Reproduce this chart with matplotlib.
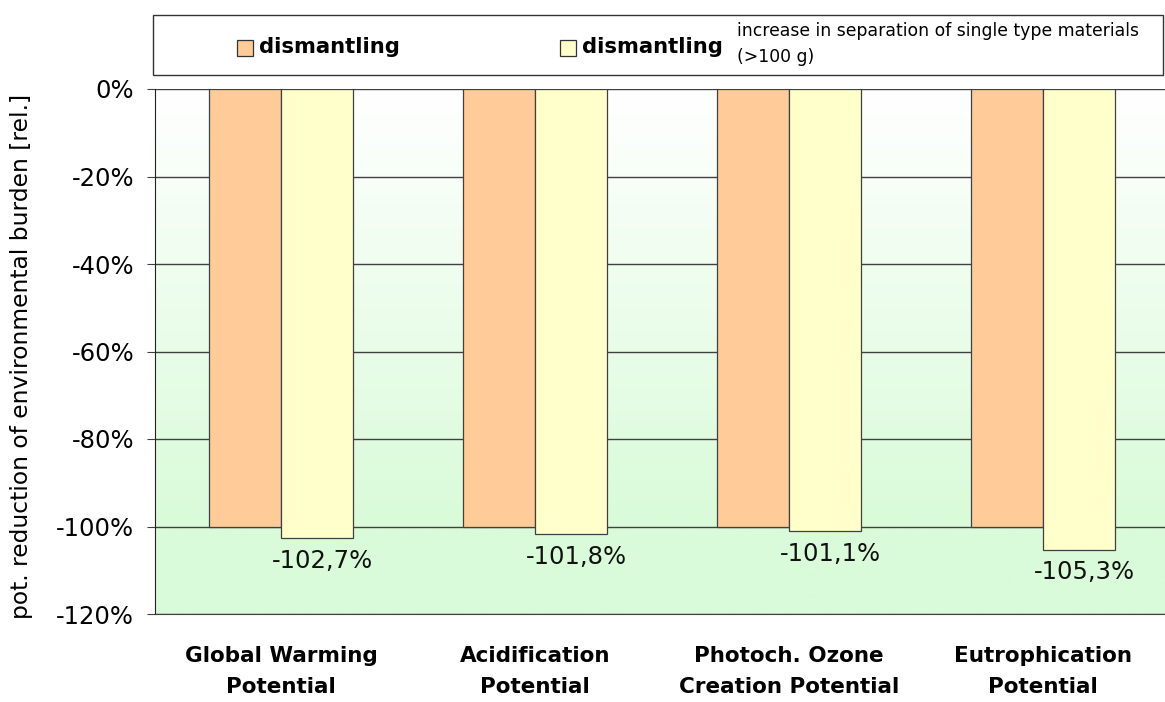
import numpy as np
import matplotlib.pyplot as plt
from matplotlib.patches import Rectangle
from matplotlib.colors import LinearSegmentedColormap

categories = ["Global Warming\nPotential", "Acidification\nPotential",
              "Photoch. Ozone\nCreation Potential", "Eutrophication\nPotential"]
dismantling = [-100, -100, -100, -100]
dismantling_sep = [-102.7, -101.8, -101.1, -105.3]
value_labels = ["-102,7%", "-101,8%", "-101,1%", "-105,3%"]
yticks = [0, -20, -40, -60, -80, -100, -120]

plt.rcParams['font.family'] = ['DejaVu Sans']

fig = plt.figure(figsize=(11.65, 7.02), dpi=100)
ax = fig.add_axes([155/1165, 1 - 614/702, 1 - 155/1165, (614 - 89)/702])

x = np.arange(len(categories))
w = 0.283
xlim = (-0.496, 3.48)

# background gradient: white at top, light green towards -100%, flat below
ys = np.linspace(0, -120, 400)
frac = np.clip(-ys / 100.0, 0, 1)
cmap = LinearSegmentedColormap.from_list("bg", ["#ffffff", "#d9fbd9"])
ax.imshow(frac[:, None], cmap=cmap, aspect='auto', extent=[xlim[0], xlim[1], -120, 0],
          origin='upper', zorder=0, vmin=0, vmax=1)

for yt in yticks:
    ax.axhline(yt, color='#404040', lw=1.0, zorder=1)

ax.bar(x - w/2, dismantling, w, color='#ffcc99', edgecolor='#404040', lw=0.9, zorder=2)
ax.bar(x + w/2, dismantling_sep, w, color='#ffffcc', edgecolor='#404040', lw=0.9, zorder=2)

for xi, v, lab in zip(x, dismantling_sep, value_labels):
    ax.annotate(lab, (xi + w/2, v), xytext=(4, -16), textcoords='offset points',
                ha='center', va='center', fontsize=17.5, color='#111111')

ax.set_xlim(*xlim)
ax.set_ylim(-120, 0)
ax.set_yticks(yticks)
ax.set_yticklabels([f"{t}%" for t in yticks], fontsize=17.5)
ax.set_xticks(x)
ax.set_xticklabels(categories, fontsize=15.5, fontweight='bold', linespacing=1.7)
ax.tick_params(axis='x', length=0, pad=23)
ax.tick_params(axis='y', length=6, direction='out', pad=9, color='#404040')
ax.set_ylabel("pot. reduction of environmental burden [rel.]", fontsize=16.8)
ax.yaxis.set_label_coords(-0.121, 0.49)
for s in ['top', 'right']:
    ax.spines[s].set_visible(False)
ax.spines['left'].set_color('#222222')
ax.spines['bottom'].set_color('#404040')

# legend box
fig.patches.append(Rectangle((153/1165, 1 - 75/702), 1010/1165, 60/702,
                             transform=fig.transFigure, facecolor='white',
                             edgecolor='#333333', lw=1.0))
for sx, col in [(237, '#ffcc99'), (560, '#ffffcc')]:
    fig.patches.append(Rectangle((sx/1165, 1 - 56/702), 16/1165, 16/702,
                                 transform=fig.transFigure, facecolor=col,
                                 edgecolor='#333333', lw=0.9))
fig.text(259/1165, 1 - 47/702, "dismantling", fontsize=15.2, fontweight='bold', va='center')
fig.text(582/1165, 1 - 47/702, "dismantling", fontsize=15.2, fontweight='bold', va='center')
fig.text(737/1165, 1 - 31/702, "increase in separation of single type materials",
         fontsize=12.4, va='center')
fig.text(737/1165, 1 - 57/702, "(>100 g)", fontsize=12.4, va='center')

fig.savefig("out.png", dpi=100)
